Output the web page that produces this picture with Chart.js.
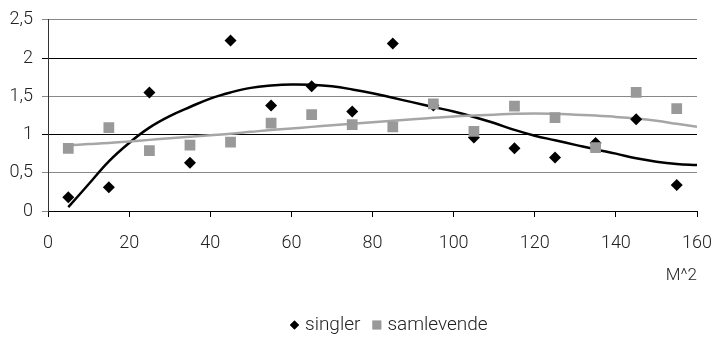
<!DOCTYPE html>
<html>
<head>
<meta charset="utf-8">
<script src="https://cdn.jsdelivr.net/npm/chart.js@4/dist/chart.umd.min.js"></script>
<style>
  html, body { margin: 0; padding: 0; background: #fff; }
  #wrap { width: 714px; height: 339px; }
</style>
</head>
<body>
<div id="wrap"><canvas id="chart" width="714" height="339"></canvas></div>
<script>
// ===== Data =====
const xValues    = [5, 15, 25, 35, 45, 55, 65, 75, 85, 95, 105, 115, 125, 135, 145, 155];
const singler    = [0.18, 0.31, 1.55, 0.63, 2.23, 1.38, 1.63, 1.30, 2.19, 1.38, 0.96, 0.82, 0.70, 0.89, 1.20, 0.34];
const samlevende = [0.82, 1.09, 0.79, 0.86, 0.90, 1.15, 1.26, 1.13, 1.10, 1.40, 1.04, 1.37, 1.22, 0.83, 1.55, 1.34];

// trendlines
const trendX          = [5, 10, 15, 20, 25, 30, 35, 40, 45, 50, 55, 60, 65, 70, 75, 80, 85, 90, 95, 100, 105, 110, 115, 120, 125, 130, 135, 140, 145, 150, 155, 160];
const trendSingler    = [0.05, 0.35, 0.65, 0.89, 1.09, 1.24, 1.36, 1.47, 1.55, 1.61, 1.64, 1.655, 1.65, 1.63, 1.59, 1.54, 1.48, 1.42, 1.36, 1.30, 1.23, 1.15, 1.06, 0.985, 0.925, 0.865, 0.805, 0.75, 0.69, 0.645, 0.615, 0.60];
const trendSamlevende = [0.86, 0.875, 0.89, 0.91, 0.93, 0.95, 0.97, 0.99, 1.01, 1.035, 1.06, 1.08, 1.10, 1.12, 1.14, 1.16, 1.18, 1.20, 1.22, 1.235, 1.25, 1.26, 1.27, 1.275, 1.27, 1.26, 1.25, 1.23, 1.21, 1.18, 1.14, 1.10];

const xTicks = [0, 20, 40, 60, 80, 100, 120, 140, 160];
const yTicks = [0, 0.5, 1, 1.5, 2, 2.5];

const toPoints = (xs, ys) => xs.map((x, i) => ({ x: x, y: ys[i] }));

const FONT = "'Roboto', 'DejaVu Sans', sans-serif";

// ===== Legend drawn under the plot =====
const bottomLegend = {
  id: 'bottomLegend',
  afterDraw(chart, args, opts) {
    const ctx = chart.ctx;
    const items = chart.data.datasets.filter(d => d.inLegend);
    ctx.save();
    ctx.font = `${opts.weight} ${opts.size}px ${FONT}`;
    ctx.textBaseline = 'middle';
    let x = opts.left;
    items.forEach(d => {
      ctx.fillStyle = d.backgroundColor;
      ctx.beginPath();
      Chart.helpers.drawPoint(ctx, {
        pointStyle: d.pointStyle,
        radius: d.pointStyle === 'rectRot' ? 4.5 : 6.2,
        borderWidth: 0
      }, x + 4.5, opts.y);
      ctx.fill();
      ctx.fillStyle = opts.color;
      ctx.fillText(d.label, x + 15, opts.y);
      x += 15 + ctx.measureText(d.label).width + 12;
    });
    ctx.restore();
  }
};

new Chart(document.getElementById('chart'), {
  type: 'scatter',
  data: {
    datasets: [
      {
        label: 'singler',
        inLegend: true,
        data: toPoints(xValues, singler),
        pointStyle: 'rectRot',
        pointRadius: 6,
        pointHoverRadius: 6,
        backgroundColor: '#000',
        borderColor: '#000',
        borderWidth: 0,
        order: 1
      },
      {
        label: 'samlevende',
        inLegend: true,
        data: toPoints(xValues, samlevende),
        pointStyle: 'rect',
        pointRadius: 7.6,
        pointHoverRadius: 7.6,
        backgroundColor: '#999999',
        borderColor: '#999999',
        borderWidth: 0,
        order: 0
      },
      {
        label: 'trend singler',
        type: 'line',
        data: toPoints(trendX, trendSingler),
        borderColor: '#000',
        borderWidth: 2.5,
        pointRadius: 0,
        tension: 0.4,
        fill: false,
        order: 3
      },
      {
        label: 'trend samlevende',
        type: 'line',
        data: toPoints(trendX, trendSamlevende),
        borderColor: '#a6a6a6',
        borderWidth: 2.5,
        pointRadius: 0,
        tension: 0.4,
        fill: false,
        order: 2
      }
    ]
  },
  options: {
    responsive: false,
    animation: false,
    layout: { padding: { top: 19, right: 17, left: 0, bottom: 48 } },
    plugins: {
      tooltip: { enabled: false },
      legend: { display: false },
      bottomLegend: { left: 290, y: 325, size: 19, weight: 300, color: '#222' }
    },
    scales: {
      x: {
        type: 'linear',
        min: 0,
        max: 160,
        afterBuildTicks: axis => { axis.ticks = xTicks.map(v => ({ value: v })); },
        ticks: {
          font: { family: FONT, size: 18, weight: 300 },
          color: '#222',
          padding: 16,
          maxRotation: 0
        },
        grid: {
          drawOnChartArea: false,
          drawTicks: true,
          tickLength: 6,
          color: '#000'
        },
        border: { color: '#000', width: 1 },
        title: {
          display: true,
          text: 'M^2',
          align: 'end',
          font: { family: FONT, size: 17, weight: 300 },
          color: '#222',
          padding: { top: 4, bottom: 5 }
        },
        afterFit: axis => {
          axis.height = 80;
          axis.paddingLeft = 0;
          axis.paddingRight = 0;
        }
      },
      y: {
        min: 0,
        max: 2.5,
        afterBuildTicks: axis => { axis.ticks = yTicks.map(v => ({ value: v })); },
        ticks: {
          font: { family: FONT, size: 18, weight: 300 },
          color: '#222',
          padding: 9,
          callback: v => String(v).replace('.', ',')
        },
        grid: {
          tickLength: 6,
          color: ctx => (ctx.tick && (ctx.tick.value === 1 || ctx.tick.value === 2)) ? '#000' : '#888',
          lineWidth: 1
        },
        border: { color: '#333', width: 1 },
        afterFit: axis => { axis.width = 48; }
      }
    }
  },
  plugins: [bottomLegend]
});
</script>
</body>
</html>
